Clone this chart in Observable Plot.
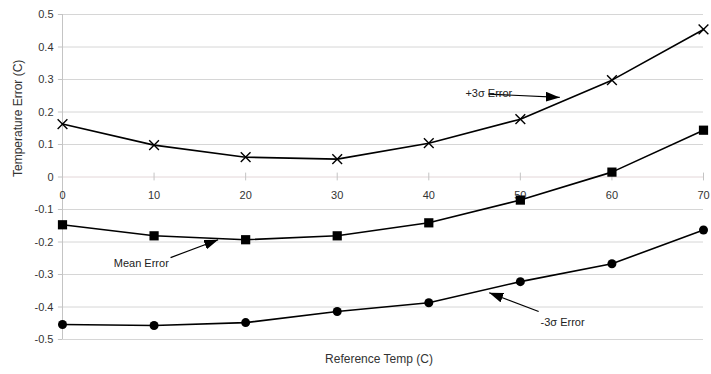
<!DOCTYPE html>
<html>
<head>
<meta charset="utf-8">
<script src="https://cdn.jsdelivr.net/npm/d3@7"></script>
<script src="https://cdn.jsdelivr.net/npm/@observablehq/plot@0.6"></script>
<style>
  html, body { margin: 0; padding: 0; background: #fff; }
  #chart svg { display: block; }
</style>
</head>
<body>
<div id="chart"></div>
<script>
// Data
const temps = [0, 10, 20, 30, 40, 50, 60, 70];
const plus3Sigma = [0.163, 0.098, 0.061, 0.055, 0.104, 0.178, 0.298, 0.454];
const meanError = [-0.147, -0.181, -0.193, -0.181, -0.141, -0.071, 0.015, 0.144];
const minus3Sigma = [-0.454, -0.457, -0.448, -0.414, -0.387, -0.322, -0.267, -0.163];

const xTicks = [0, 10, 20, 30, 40, 50, 60, 70];
const yTicks = [0.5, 0.4, 0.3, 0.2, 0.1, 0, -0.1, -0.2, -0.3, -0.4, -0.5];
const yTickLabels = ["0.5", "0.4", "0.3", "0.2", "0.1", "0", "-0.1", "-0.2", "-0.3", "-0.4", "-0.5"];

// Annotations (data units)
const annotText = ["+3σ Error", "Mean Error", "-3σ Error"];
const annotX = [44.0, 5.6, 52.2];
const annotY = [0.258, -0.267, -0.448];
const arrowX1 = [46.5, 11.8, 52.0];
const arrowY1 = [0.255, -0.248, -0.414];
const arrowX2 = [54.3, 17.0, 46.6];
const arrowY2 = [0.245, -0.193, -0.356];

const xTitle = "Reference Temp (C)";
const yTitle = "Temperature Error (C)";

const series = [
  {name: "plus", values: plus3Sigma},
  {name: "mean", values: meanError},
  {name: "minus", values: minus3Sigma}
];
const rows = series.flatMap(s => temps.map((t, i) => ({series: s.name, t, v: s.values[i]})));
const annots = annotText.map((text, i) => ({text, x: annotX[i], y: annotY[i], x1: arrowX1[i], y1: arrowY1[i], x2: arrowX2[i], y2: arrowY2[i]}));

function filledArrow(color, context) {
  const doc = (context && context.document) || document;
  const ns = "http://www.w3.org/2000/svg";
  const m = doc.createElementNS(ns, "marker");
  m.setAttribute("viewBox", "-14 -5 14 10");
  m.setAttribute("markerWidth", "14");
  m.setAttribute("markerHeight", "10");
  m.setAttribute("markerUnits", "userSpaceOnUse");
  m.setAttribute("orient", "auto");
  m.setAttribute("refX", "0");
  m.setAttribute("refY", "0");
  const p = doc.createElementNS(ns, "path");
  p.setAttribute("d", "M-14,-5L0,0L-14,5Z");
  p.setAttribute("fill", "#000");
  p.setAttribute("stroke", "none");
  m.appendChild(p);
  return m;
}

const font = "'Liberation Sans', Arial, Helvetica, sans-serif";

const chart = Plot.plot({
  width: 711,
  height: 374,
  marginLeft: 62,
  marginRight: 8,
  marginTop: 14,
  marginBottom: 35,
  x: {domain: [0, 70], axis: null},
  y: {domain: [-0.5, 0.5], axis: null},
  style: {fontFamily: font, fontSize: "11px", background: "#fff"},
  marks: [
    Plot.ruleY(yTicks.filter(d => d !== 0), {stroke: "#d6d6d6", strokeWidth: 1}),
    Plot.ruleY([0], {stroke: "#e3d6d8", strokeWidth: 1}),
    Plot.ruleX([0], {y1: -0.5, y2: 0.5, stroke: "#c4c4c4"}),
    Plot.ruleX(xTicks.filter(d => d !== 0), {y1: -0.012, y2: 0.012, stroke: "#c4c4c4"}),
    Plot.ruleY(yTicks, {y: d => d, x1: -0.45, x2: 0, stroke: "#c4c4c4"}),
    Plot.text(yTicks, {y: d => d, frameAnchor: "left", dx: -9, textAnchor: "end", text: (d, i) => yTickLabels[i], fill: "#333", fontSize: 11}),
    Plot.text(xTicks, {x: d => d, y: 0, dy: 18, text: d => String(d), fill: "#333", fontSize: 11}),
    Plot.text([yTitle], {frameAnchor: "left", dx: -44, rotate: -90, fill: "#333", fontSize: 12}),
    Plot.text([xTitle], {frameAnchor: "bottom", dx: -4, dy: 23, fill: "#333", fontSize: 12}),
    Plot.line(rows, {x: "t", y: "v", z: "series", stroke: "#000", strokeWidth: 1.6}),
    Plot.dot(rows.filter(d => d.series === "plus"), {x: "t", y: "v", symbol: "times", r: 4.5, stroke: "#000", strokeWidth: 1.4}),
    Plot.dot(rows.filter(d => d.series === "mean"), {x: "t", y: "v", symbol: "square", r: 5.2, fill: "#000", stroke: "none"}),
    Plot.dot(rows.filter(d => d.series === "minus"), {x: "t", y: "v", symbol: "circle", r: 4.5, fill: "#000", stroke: "none"}),
    Plot.link(annots, {x1: "x1", y1: "y1", x2: "x2", y2: "y2", stroke: "#000", strokeWidth: 1.2, markerEnd: filledArrow}),
    Plot.text(annots, {x: "x", y: "y", text: "text", textAnchor: "start", fill: "#222", fontSize: 11})
  ]
});

document.getElementById("chart").appendChild(chart);
</script>
</body>
</html>
